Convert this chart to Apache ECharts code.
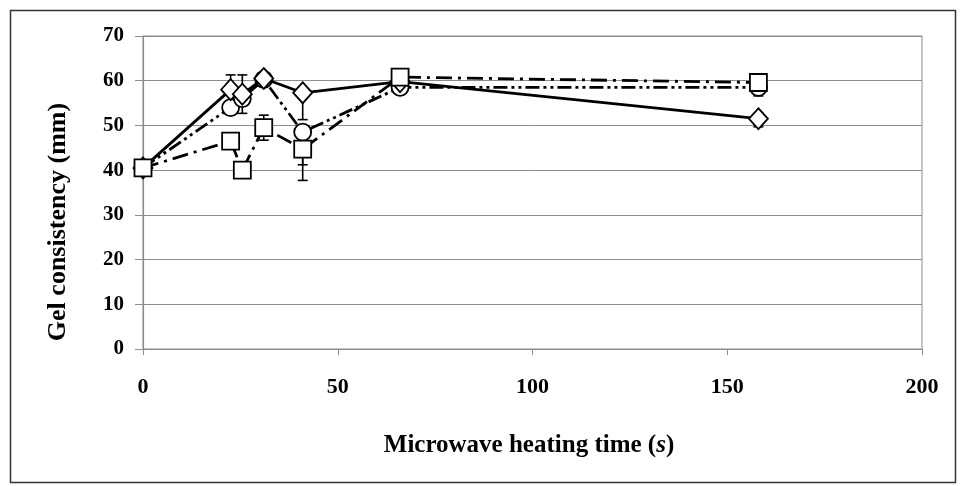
<!DOCTYPE html>
<html>
<head>
<meta charset="utf-8">
<script src="https://cdn.jsdelivr.net/npm/echarts@6/dist/echarts.min.js"></script>
<style>
  html, body { margin: 0; padding: 0; background: #fff; }
  #chart { width: 960px; height: 486px; }
</style>
</head>
<body>
<div id="chart"></div>
<script>
// heating time (s)
var times = [0, 22.5, 25.5, 31, 41, 66, 158];
// gel consistency (mm) per series
var diamondVals = [40.5, 58, 57, 60.5, 57.3, 59.8, 51.5];
var circleVals = [40.5, 54, 56, 60.3, 48.5, 58.5, 58.5];
var squareVals = [40.5, 46.5, 40, 49.5, 44.7, 60.8, 59.6];
// error bars (mm above / below the point)
var diamondErrUp = [0, 3.3, 4.3, 0, 0, 0, 1.2];
var diamondErrDown = [0, 3.3, 4.3, 0, 6, 0, 1.8];
var circleErrUp = [0, 0, 0, 0, 0, 0, 0];
var circleErrDown = [0, 0, 0, 0, 7.3, 0, 0];
var squareErrUp = [0, 0, 0, 2.8, 0, 0, 0];
var squareErrDown = [0, 0, 0, 2.8, 7, 0, 3];
// axis ticks
var xTicks = [0, 50, 100, 150, 200];
var yTicks = [0, 10, 20, 30, 40, 50, 60, 70];

var font = '"Liberation Serif", "Times New Roman", serif';

function pairs(vals) {
  var out = [];
  for (var i = 0; i < times.length; i++) {
    out.push([times[i], vals[i]]);
  }
  return out;
}

function errData(vals, up, down) {
  var out = [];
  for (var i = 0; i < times.length; i++) {
    if (up[i] > 0 || down[i] > 0) out.push([times[i], vals[i], up[i], down[i]]);
  }
  return out;
}

// draws the error bar for one point
function renderErr(params, api) {
  var x = api.value(0), y = api.value(1);
  var up = api.value(2), down = api.value(3);
  var top = api.coord([x, y + up]);
  var bot = api.coord([x, y - down]);
  var w = 5;
  var st = { stroke: '#000', lineWidth: 1.6 };
  var kids = [
    { type: 'line', shape: { x1: top[0], y1: top[1], x2: bot[0], y2: bot[1] }, style: st }
  ];
  if (up > 0) kids.push({ type: 'line', shape: { x1: top[0] - w, y1: top[1], x2: top[0] + w, y2: top[1] }, style: st });
  if (down > 0) kids.push({ type: 'line', shape: { x1: bot[0] - w, y1: bot[1], x2: bot[0] + w, y2: bot[1] }, style: st });
  return { type: 'group', children: kids };
}

function lineSeries(name, vals, symbol, size, dash, z) {
  return {
    name: name,
    type: 'line',
    data: pairs(vals),
    symbol: symbol,
    symbolSize: size,
    showAllSymbol: true,
    z: z,
    lineStyle: { color: '#000', width: 2.8, type: dash },
    itemStyle: { color: '#fff', borderColor: '#000', borderWidth: 1.8 },
    emphasis: { disabled: true }
  };
}

function errSeries(vals, up, down) {
  return {
    type: 'custom',
    renderItem: renderErr,
    data: errData(vals, up, down),
    z: 1,
    silent: true
  };
}

var chart = echarts.init(document.getElementById('chart'));
chart.setOption({
  animation: false,
  backgroundColor: '#fff',
  grid: {
    left: 143, right: 38, top: 36, bottom: 137,
    show: true, borderColor: '#8c8c8c', borderWidth: 1
  },
  xAxis: {
    type: 'value',
    min: xTicks[0], max: xTicks[xTicks.length - 1], interval: 50,
    axisLine: { lineStyle: { color: '#8c8c8c', width: 1.2 } },
    axisTick: { show: true, length: 6, lineStyle: { color: '#8c8c8c' } },
    splitLine: { show: false },
    axisLabel: { margin: 27, fontFamily: font, fontWeight: 'bold', fontSize: 22, color: '#000' }
  },
  yAxis: {
    type: 'value',
    min: yTicks[0], max: yTicks[yTicks.length - 1], interval: 10,
    axisLine: { show: true, lineStyle: { color: '#8c8c8c', width: 1.2 } },
    axisTick: { show: true, length: 8, lineStyle: { color: '#8c8c8c' } },
    splitLine: { show: true, lineStyle: { color: '#8c8c8c', width: 1 } },
    axisLabel: { margin: 19, fontFamily: font, fontWeight: 'bold', fontSize: 21, color: '#000' }
  },
  graphic: [
    {
      type: 'rect', left: 8, top: 8, z: -1,
      shape: { width: 945, height: 472 },
      style: { fill: 'none', stroke: '#333', lineWidth: 1.5 }
    },
    {
      type: 'text', x: 529, y: 446,
      style: {
        text: '{b|Microwave heating time (}{i|s}{b|)}',
        align: 'center', verticalAlign: 'middle',
        rich: {
          b: { fontFamily: font, fontWeight: 'bold', fontSize: 25, fill: '#000' },
          i: { fontFamily: font, fontWeight: 'bold', fontStyle: 'italic', fontSize: 25, fill: '#000' }
        }
      }
    },
    {
      type: 'text', x: 58, y: 222, rotation: Math.PI / 2,
      style: {
        text: 'Gel consistency (mm)',
        align: 'center', verticalAlign: 'middle',
        fontFamily: font, fontWeight: 'bold', fontSize: 26, fill: '#000'
      }
    }
  ],
  series: [
    errSeries(circleVals, circleErrUp, circleErrDown),
    errSeries(diamondVals, diamondErrUp, diamondErrDown),
    errSeries(squareVals, squareErrUp, squareErrDown),
    lineSeries('circle', circleVals, 'circle', 17, [14, 4, 3, 4, 3, 4], 2),
    lineSeries('diamond', diamondVals, 'diamond', [19, 21], 'solid', 3),
    lineSeries('square', squareVals, 'rect', 17, [16, 6, 3, 6], 4)
  ]
});
</script>
</body>
</html>
